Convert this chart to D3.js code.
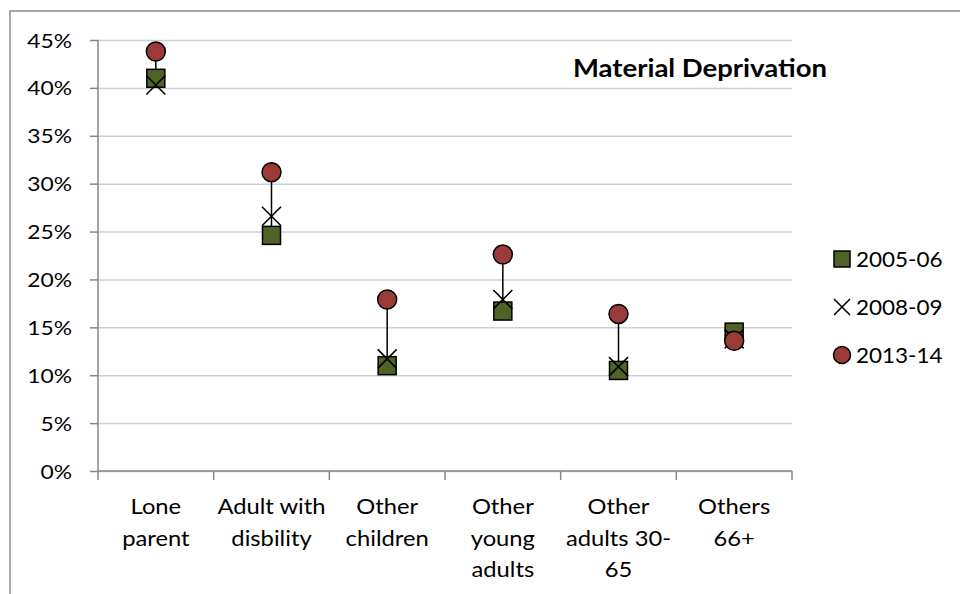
<!DOCTYPE html>
<html><head><meta charset="utf-8">
<script src="https://cdn.jsdelivr.net/npm/d3@7"></script>
<style>
html,body{margin:0;padding:0;background:#fff;}
svg{display:block;font-family:Lato, "Open Sans", sans-serif;}
</style></head>
<body>
<svg id="chart" width="960" height="594"></svg>
<script>
const categories = [["Lone","parent"],["Adult with","disbility"],["Other","children"],["Other","young","adults"],["Other","adults 30-","65"],["Others","66+"]];
const seriesNames = ["2005-06","2008-09","2013-14"];
const s2005 = [41.0, 24.6, 11.0, 16.7, 10.5, 14.5];
const s2008 = [40.3, 26.6, 11.7, 17.9, 10.9, 13.8];
const s2013 = [43.8, 31.2, 17.9, 22.6, 16.4, 13.6];
const yTicks = [0,5,10,15,20,25,30,35,40,45];
const chartTitle = "Material Deprivation";

const svg = d3.select("#chart");
const plot = {l: 98, r: 792, t: 40, b: 471};

// outer chart border
svg.append("rect").attr("x",10).attr("y",11).attr("width",1000).attr("height",1000)
  .attr("fill","none").attr("stroke","#8a8a8a").attr("stroke-width",1.5);

const keys = categories.map(c => c.join(" "));
const x = d3.scaleBand().domain(keys).range([plot.l, plot.r]).padding(0);
const y = d3.scaleLinear().domain([0,45]).range([plot.b, plot.t]);

// gridlines
svg.append("g").attr("class","grid")
  .attr("transform",`translate(${plot.l},0)`)
  .call(d3.axisLeft(y).tickValues(yTicks).tickSize(-(plot.r-plot.l)).tickFormat(""))
  .call(g => g.select(".domain").remove())
  .call(g => g.selectAll("line").attr("stroke","#d0d0d0").attr("stroke-width",1.5));

// y axis
const yAx = svg.append("g").attr("transform",`translate(${plot.l},0)`)
  .call(d3.axisLeft(y).tickValues(yTicks).tickSize(8).tickPadding(0).tickFormat(d => d + "%"));
yAx.select(".domain").attr("stroke","#868686").attr("stroke-width",1.5).attr("d",`M-0,${plot.b}V${plot.t}`);
yAx.selectAll(".tick line").attr("stroke","#868686").attr("stroke-width",1.5);
yAx.selectAll(".tick text").attr("x",null).attr("dy",null)
  .attr("transform","translate(-26,7) scale(1.2,1)")
  .attr("font-size",19).attr("fill","#000").attr("font-family","Lato");

// x axis with ticks between categories
const xAx = svg.append("g").attr("transform",`translate(0,${plot.b})`)
  .call(d3.axisBottom(x).tickSize(0).tickFormat(""));
xAx.select(".domain").attr("stroke","#868686").attr("stroke-width",1.5).attr("d",`M${plot.l},0H${plot.r}`);
const bounds = keys.map(k => x(k)).concat([x(keys[keys.length-1]) + x.bandwidth()]);
xAx.selectAll(".btick").data(bounds).join("line").attr("class","btick")
  .attr("x1",d=>d).attr("x2",d=>d).attr("y1",0).attr("y2",9)
  .attr("stroke","#868686").attr("stroke-width",1.5);

// category labels
categories.forEach((lines,i) => {
  const cx = x(keys[i]) + x.bandwidth()/2;
  lines.forEach((t,j) => {
    svg.append("text").attr("transform",`translate(${cx},${514 + j*31.5}) scale(1.08,1)`)
      .attr("text-anchor","middle").attr("font-size",22).attr("fill","#000").text(t);
  });
});

// high-low lines
const rows = keys.map((k,i) => ({k, v:[s2005[i], s2008[i], s2013[i]]}));
svg.append("g").selectAll("line").data(rows).join("line")
  .attr("x1",d=>x(d.k)+x.bandwidth()/2).attr("x2",d=>x(d.k)+x.bandwidth()/2)
  .attr("y1",d=>y(d3.max(d.v))).attr("y2",d=>y(d3.min(d.v)))
  .attr("stroke","#000").attr("stroke-width",1.5);

const green = "#4f6228", red = "#9b3b39";
const cxOf = i => x(keys[i]) + x.bandwidth()/2;

function square(g, cx, cy, s){ g.append("rect").attr("x",cx-s/2).attr("y",cy-s/2).attr("width",s).attr("height",s)
  .attr("fill",green).attr("stroke","#000").attr("stroke-width",1.5); }
function cross(g, cx, cy, s){ g.append("path").attr("d",`M${cx-s/2},${cy-s/2}L${cx+s/2},${cy+s/2}M${cx-s/2},${cy+s/2}L${cx+s/2},${cy-s/2}`)
  .attr("stroke","#000").attr("stroke-width",1.6).attr("fill","none"); }
function circ(g, cx, cy, r){ g.append("circle").attr("cx",cx).attr("cy",cy).attr("r",r)
  .attr("fill",red).attr("stroke","#000").attr("stroke-width",1.5); }

const mk = svg.append("g");
s2005.forEach((v,i) => square(mk, cxOf(i), y(v), 18));
s2008.forEach((v,i) => cross(mk, cxOf(i), y(v), 19));
s2013.forEach((v,i) => circ(mk, cxOf(i), y(v), 9.5));

// legend
const lg = svg.append("g");
const ly = [259, 307, 355];
square(lg, 842, ly[0], 16);
cross(lg, 842, ly[1], 16);
circ(lg, 842, ly[2], 8.5);
seriesNames.forEach((n,i) => {
  lg.append("text").attr("transform",`translate(856,${ly[i]+7.5}) scale(1.07,1)`)
    .attr("font-size",21).attr("fill","#000").text(n);
});

// chart title
svg.append("text").attr("transform","translate(573,77) scale(1.1,1)")
  .attr("font-size",25).attr("font-weight","bold").attr("fill","#000").text(chartTitle);
</script>
</body></html>
